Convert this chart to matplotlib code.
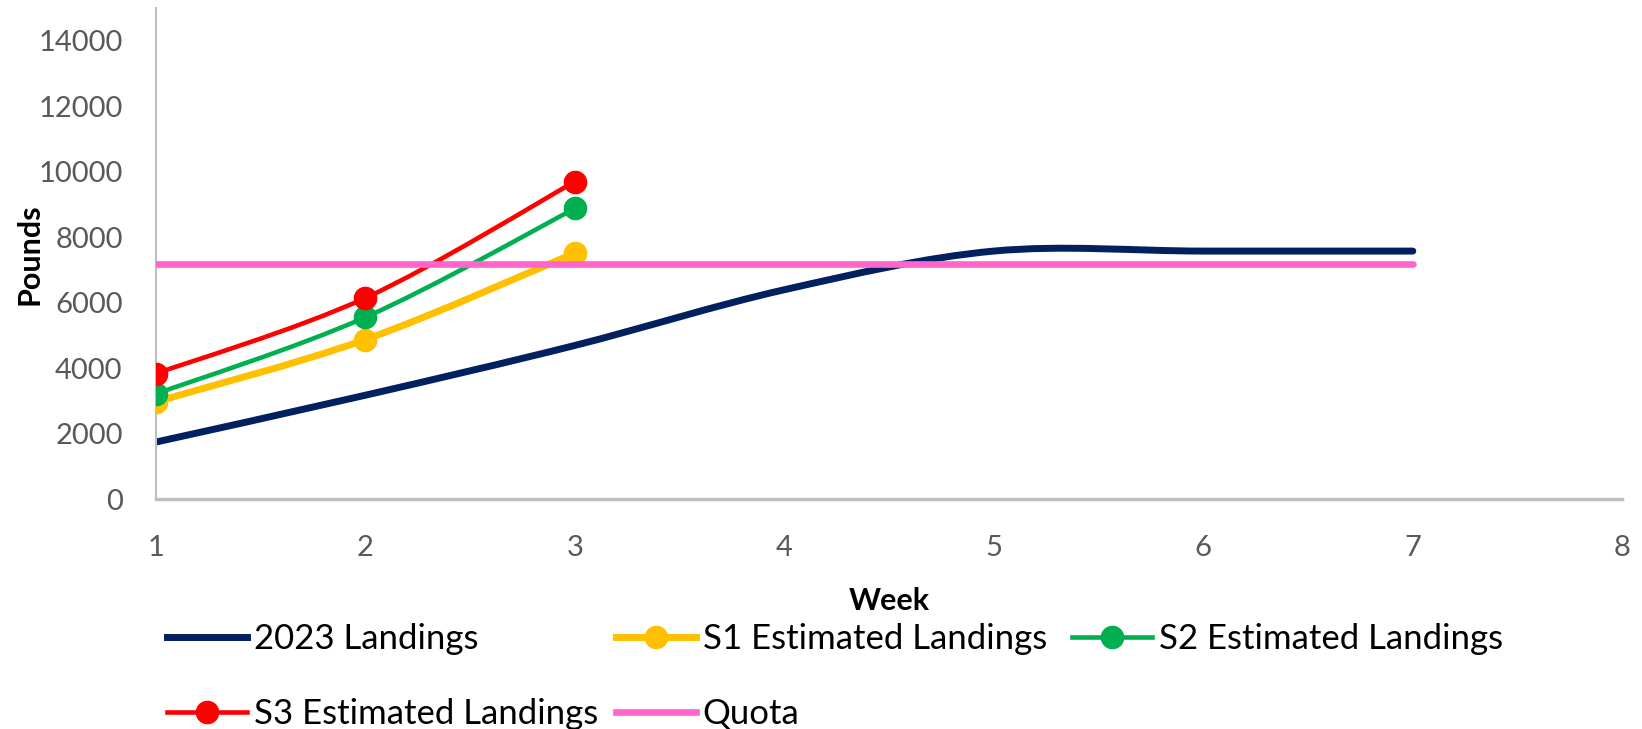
import matplotlib
matplotlib.use("Agg")
import matplotlib.pyplot as plt
import numpy as np
from matplotlib.path import Path
from matplotlib.patches import PathPatch
from matplotlib.lines import Line2D

# data
weeks = [1, 2, 3, 4, 5, 6, 7]
landings_2023 = [1750, 3180, 4700, 6400, 7580, 7580, 7580]
s_weeks = [1, 2, 3]
s1 = [2980, 4880, 7520]
s2 = [3220, 5560, 8880]
s3 = [3840, 6150, 9700]
quota = [7200, 7200, 7200, 7200, 7200, 7200, 7200]

c_navy = "#002060"
c_yel = "#FFC000"
c_grn = "#00B050"
c_red = "#FF0000"
c_pink = "#FF66CC"

plt.rcParams['font.family'] = ['Lato', 'DejaVu Sans']


def smooth_path(x, y):
    # Excel style smoothed line: bezier through points (catmull-rom tangents)
    p = np.column_stack([x, y]).astype(float)
    n = len(p)
    verts = [p[0]]
    codes = [Path.MOVETO]
    for i in range(n - 1):
        p0 = p[i - 1] if i > 0 else p[i]
        p3 = p[i + 2] if i + 2 < n else p[i + 1]
        c1 = p[i] + (p[i + 1] - p0) / 6
        c2 = p[i + 1] - (p3 - p[i]) / 6
        verts += [c1, c2, p[i + 1]]
        codes += [Path.CURVE4] * 3
    return Path(verts, codes)


fig = plt.figure(figsize=(16.42, 7.29), dpi=100)
ax = fig.add_axes([0.095, 0.315, 0.893, 0.674])

def add_line(x, y, color, lw, z):
    patch = PathPatch(smooth_path(x, y), facecolor='none', edgecolor=color,
                      lw=lw, capstyle='round', joinstyle='round', zorder=z)
    ax.add_patch(patch)

add_line(weeks, landings_2023, c_navy, 5, 2)
add_line(s_weeks, s1, c_yel, 5, 3)
ax.plot(s_weeks, s1, 'o', color=c_yel, ms=16, zorder=3)
add_line(s_weeks, s2, c_grn, 3.3, 4)
ax.plot(s_weeks, s2, 'o', color=c_grn, ms=16, zorder=4)
add_line(s_weeks, s3, c_red, 3.3, 5)
ax.plot(s_weeks, s3, 'o', color=c_red, ms=16, zorder=5)
ax.plot(weeks, quota, color=c_pink, lw=4.8, solid_capstyle='round', zorder=6)

ax.set_xlim(1, 8)
ax.set_ylim(0, 15000)
ax.set_xticks(range(1, 9))
ax.set_yticks(range(0, 15000, 2000))
ax.tick_params(length=0, labelsize=21, colors='#595959', pad=24)
ax.tick_params(axis='x', pad=26)

for s in ['top', 'right']:
    ax.spines[s].set_visible(False)
ax.spines['left'].set_color('#BFBFBF')
ax.spines['left'].set_linewidth(1.5)
ax.spines['bottom'].set_color('#BFBFBF')
ax.spines['bottom'].set_linewidth(2.5)

ax.set_xlabel('Week', fontsize=22, fontweight='bold')
ax.set_ylabel('Pounds', fontsize=22, fontweight='bold')
ax.xaxis.set_label_coords(0.5, -(602 - 500) / 491)
ax.yaxis.set_label_coords(-(156 - 30) / 1466, 0.5)
ax.xaxis.label.set_va('center')
ax.yaxis.label.set_va('center')

# legend, three equal columns like excel
h_2023 = Line2D([], [], color=c_navy, lw=5)
h_s1 = Line2D([], [], color=c_yel, lw=5, marker='o', ms=16)
h_s2 = Line2D([], [], color=c_grn, lw=3.3, marker='o', ms=16)
h_s3 = Line2D([], [], color=c_red, lw=3.3, marker='o', ms=16)
h_q = Line2D([], [], color=c_pink, lw=4.8)

cols = [([h_2023, h_s3], ['2023 Landings', 'S3 Estimated Landings'], 0.102),
        ([h_s1, h_q], ['S1 Estimated Landings', 'Quota'], 0.375),
        ([h_s2], ['S2 Estimated Landings'], 0.653)]
for hs, labs, x0 in cols:
    fig.legend(hs, labs, loc='upper left', bbox_to_anchor=(x0, 1 - 623 / 729),
               bbox_transform=fig.transFigure, frameon=False, fontsize=25,
               handlelength=2.3, handletextpad=0.2, labelspacing=1.23,
               borderaxespad=0, borderpad=0)

plt.savefig('out.png', dpi=100)
